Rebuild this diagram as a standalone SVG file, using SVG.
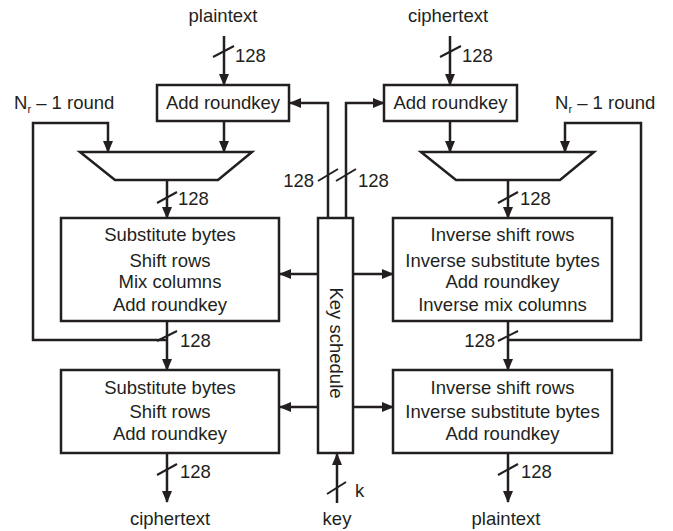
<svg xmlns="http://www.w3.org/2000/svg" width="673" height="531" viewBox="0 0 673 531">
<style>
text{font-family:"Liberation Sans",Arial,sans-serif;font-size:18.5px;fill:#231f20}
.c{text-anchor:middle}
.e{text-anchor:end}
.b{fill:#fff;stroke:#231f20;stroke-width:2.5}
.l{fill:none;stroke:#231f20;stroke-width:2.5}
.a{fill:none;stroke:#231f20;stroke-width:2.5;marker-end:url(#ah)}
.s{fill:none;stroke:#231f20;stroke-width:2}
</style>
<defs>
<marker id="ah" markerUnits="userSpaceOnUse" markerWidth="12" markerHeight="10" refX="11" refY="5" orient="auto" viewBox="0 0 12 10">
<path d="M0,0 L12,5 L0,10 z" fill="#231f20"/>
</marker>
</defs>
<g id="connectors">
<line class="a" x1="224" y1="36" x2="224" y2="85"/>
<line class="s" x1="213" y1="57" x2="234" y2="46"/>
<line class="a" x1="224" y1="121" x2="224" y2="152"/>
<polyline class="a" points="167,340 33,340 33,123 108,123 108,152"/>
<line class="a" x1="167" y1="180" x2="167" y2="218"/>
<line class="s" x1="157" y1="203" x2="177" y2="192"/>
<line class="a" x1="167" y1="321" x2="167" y2="370"/>
<line class="s" x1="157" y1="341" x2="177" y2="331"/>
<line class="a" x1="167" y1="453" x2="167" y2="502"/>
<line class="s" x1="157" y1="475" x2="177" y2="464"/>
<line class="a" x1="450" y1="36" x2="450" y2="85"/>
<line class="s" x1="440" y1="57" x2="461" y2="46"/>
<line class="a" x1="450" y1="121" x2="450" y2="152"/>
<polyline class="a" points="508,340 641,340 641,123 565,123 565,152"/>
<line class="a" x1="508" y1="180" x2="508" y2="218"/>
<line class="s" x1="498" y1="203" x2="518" y2="192"/>
<line class="a" x1="508" y1="321" x2="508" y2="370"/>
<line class="s" x1="498" y1="341" x2="518" y2="331"/>
<line class="a" x1="508" y1="453" x2="508" y2="502"/>
<line class="s" x1="498" y1="475" x2="518" y2="464"/>
<polyline class="a" points="328,218 328,103 290,103"/>
<polyline class="a" points="346,218 346,103 384,103"/>
<line class="s" x1="318" y1="181" x2="338" y2="169"/>
<line class="s" x1="336" y1="181" x2="356" y2="169"/>
<line class="a" x1="318" y1="274" x2="280" y2="274"/>
<line class="a" x1="353" y1="274" x2="393" y2="274"/>
<line class="a" x1="318" y1="407" x2="280" y2="407"/>
<line class="a" x1="353" y1="407" x2="393" y2="407"/>
<line class="a" x1="337" y1="503" x2="337" y2="454"/>
<line class="s" x1="327" y1="494" x2="346" y2="482"/>
</g>
<g id="labels">
<text class="c" x="223" y="22">plaintext</text>
<text x="235" y="62">128</text>
<text class="c" x="448" y="22">ciphertext</text>
<text x="462" y="62">128</text>
<text x="14" y="109">N<tspan font-size="11" dy="4">r</tspan><tspan dy="-4"> – 1 round</tspan></text>
<text x="555" y="109">N<tspan font-size="11" dy="4">r</tspan><tspan dy="-4"> – 1 round</tspan></text>
<text class="e" x="314" y="187">128</text>
<text x="358" y="187">128</text>
<text x="178" y="205">128</text>
<text x="520" y="205">128</text>
<text x="180" y="347">128</text>
<text class="e" x="495" y="347">128</text>
<text x="180" y="478">128</text>
<text x="521" y="478">128</text>
<text x="355" y="497">k</text>
<text class="c" x="170" y="525">ciphertext</text>
<text class="c" x="337" y="525">key</text>
<text class="c" x="506" y="525">plaintext</text>
</g>
<g id="addkey-left">
<rect class="b" x="157" y="85" width="132" height="36"/>
<text class="c" x="223" y="109">Add roundkey</text>
</g>
<g id="addkey-right">
<rect class="b" x="384" y="85" width="133" height="36"/>
<text class="c" x="450.5" y="109">Add roundkey</text>
</g>
<g id="mux-left">
<polygon class="b" points="80,152 252,152 218,180 115,180"/>
</g>
<g id="mux-right">
<polygon class="b" points="421,152 594,152 560,180 456,180"/>
</g>
<g id="round-left">
<rect class="b" x="61" y="218" width="218" height="103"/>
<text class="c" x="170" y="241">Substitute bytes</text>
<text class="c" x="170" y="267">Shift rows</text>
<text class="c" x="170" y="288">Mix columns</text>
<text class="c" x="170" y="311">Add roundkey</text>
</g>
<g id="final-left">
<rect class="b" x="61" y="370" width="218" height="83"/>
<text class="c" x="170" y="394">Substitute bytes</text>
<text class="c" x="170" y="418">Shift rows</text>
<text class="c" x="170" y="440">Add roundkey</text>
</g>
<g id="round-right">
<rect class="b" x="393" y="218" width="219" height="103"/>
<text class="c" x="502.5" y="241">Inverse shift rows</text>
<text class="c" x="502.5" y="267">Inverse substitute bytes</text>
<text class="c" x="502.5" y="288">Add roundkey</text>
<text class="c" x="502.5" y="311">Inverse mix columns</text>
</g>
<g id="final-right">
<rect class="b" x="393" y="370" width="219" height="83"/>
<text class="c" x="502.5" y="394">Inverse shift rows</text>
<text class="c" x="502.5" y="418">Inverse substitute bytes</text>
<text class="c" x="502.5" y="440">Add roundkey</text>
</g>
<g id="key-schedule">
<rect class="b" x="318" y="218" width="35" height="235"/>
<text class="c" transform="translate(329.5,343) rotate(90)">Key schedule</text>
</g>
</svg>
